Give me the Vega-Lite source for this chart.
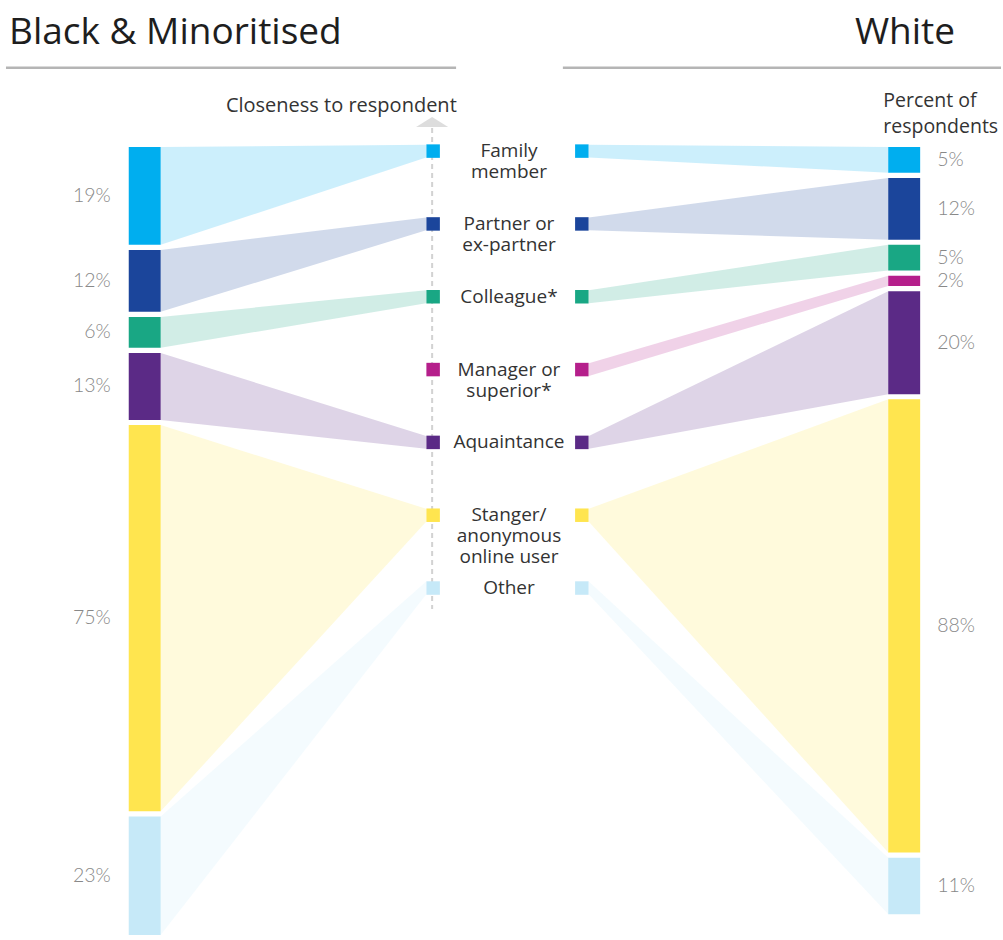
{
  "$schema": "https://vega.github.io/schema/vega-lite/v6.json",
  "width": 1003,
  "height": 940,
  "autosize": {"type": "fit", "contains": "padding"},
  "padding": 0,
  "background": "white",
  "config": {"view": {"stroke": null}, "text": {"font": "Open Sans"}},
  "data": {"values": [{}]},
  "datasets": {
    "cats": [
      {"category": "Family member", "rank": 0, "label": ["Family", "member"]},
      {"category": "Partner or ex-partner", "rank": 1, "label": ["Partner or", "ex-partner"]},
      {"category": "Colleague", "rank": 2, "label": ["Colleague*"]},
      {"category": "Manager or superior", "rank": 3, "label": ["Manager or", "superior*"]},
      {"category": "Aquaintance", "rank": 4, "label": ["Aquaintance"]},
      {"category": "Stranger/anonymous online user", "rank": 5, "label": ["Stanger/", "anonymous", "online user"]},
      {"category": "Other", "rank": 6, "label": ["Other"]}
    ],
    "pct": [
      {"group": "Black & Minoritised", "category": "Family member", "pct": 19},
      {"group": "Black & Minoritised", "category": "Partner or ex-partner", "pct": 12},
      {"group": "Black & Minoritised", "category": "Colleague", "pct": 6},
      {"group": "Black & Minoritised", "category": "Aquaintance", "pct": 13},
      {"group": "Black & Minoritised", "category": "Stranger/anonymous online user", "pct": 75},
      {"group": "Black & Minoritised", "category": "Other", "pct": 23},
      {"group": "White", "category": "Family member", "pct": 5},
      {"group": "White", "category": "Partner or ex-partner", "pct": 12},
      {"group": "White", "category": "Colleague", "pct": 5},
      {"group": "White", "category": "Manager or superior", "pct": 2},
      {"group": "White", "category": "Aquaintance", "pct": 20},
      {"group": "White", "category": "Stranger/anonymous online user", "pct": 88},
      {"group": "White", "category": "Other", "pct": 11}
    ]
  },
  "layer": [
    {
      "mark": {"type": "rule", "stroke": "#b5b5b5", "strokeWidth": 2.5},
      "encoding": {
        "x": {"datum": 6, "scale": {"domain": [0, 1003], "nice": false, "zero": false}, "axis": null},
        "x2": {"datum": 457},
        "y": {"datum": -15.4, "scale": {"domain": [-28.54, 153.98], "reverse": true, "nice": false, "zero": false}, "axis": null}
      }
    },
    {
      "mark": {"type": "rule", "stroke": "#b5b5b5", "strokeWidth": 2.5},
      "encoding": {
        "x": {"datum": 564, "axis": null},
        "x2": {"datum": 1003},
        "y": {"datum": -15.4, "axis": null}
      }
    },
    {
      "mark": {"type": "text", "text": "Black & Minoritised", "fontSize": 37, "align": "left", "baseline": "alphabetic", "fill": "#1e1e1e"},
      "encoding": {"x": {"datum": 9, "axis": null}, "y": {"datum": -20.0, "axis": null}}
    },
    {
      "mark": {"type": "text", "text": "White", "fontSize": 37, "align": "right", "baseline": "alphabetic", "fill": "#1e1e1e"},
      "encoding": {"x": {"datum": 957, "axis": null}, "y": {"datum": -20.0, "axis": null}}
    },
    {
      "mark": {"type": "point", "shape": "M-1,0.31L1,0.31L0,-0.31Z", "size": 1024, "filled": true, "fill": "#dddddd", "opacity": 1, "strokeWidth": 0},
      "encoding": {"x": {"datum": 433, "axis": null}, "y": {"datum": -4.85, "axis": null}}
    },
    {
      "mark": {"type": "rule", "stroke": "#d2d2d2", "strokeWidth": 2, "strokeDash": [5, 4]},
      "encoding": {"x": {"datum": 433, "axis": null}, "y": {"datum": -3.69, "axis": null}, "y2": {"datum": 89.7}}
    },
    {
      "mark": {"type": "text", "text": "Closeness to respondent", "fontSize": 20, "align": "center", "baseline": "alphabetic", "fill": "#333333"},
      "encoding": {"x": {"datum": 342, "axis": null}, "y": {"datum": -6.89, "axis": null}}
    },
    {
      "mark": {"type": "text", "text": "Percent of", "fontSize": 19.5, "align": "left", "baseline": "alphabetic", "fill": "#333333"},
      "encoding": {"x": {"datum": 885, "axis": null}, "y": {"datum": -7.83, "axis": null}}
    },
    {
      "mark": {"type": "text", "text": "respondents", "fontSize": 19.5, "align": "left", "baseline": "alphabetic", "fill": "#333333"},
      "encoding": {"x": {"datum": 885, "axis": null}, "y": {"datum": -2.72, "axis": null}}
    },
    {
      "data": {"name": "pct"},
      "transform": [
        {"lookup": "category", "from": {"data": {"name": "cats"}, "key": "category", "fields": ["rank"]}},
        {"window": [{"op": "sum", "field": "pct", "as": "cum"}, {"op": "row_number", "as": "idx"}], "groupby": ["group"], "sort": [{"field": "rank", "order": "ascending"}], "frame": [null, 0]},
        {"calculate": "datum.cum - datum.pct + (datum.idx - 1)", "as": "y0"},
        {"calculate": "datum.y0 + datum.pct", "as": "y1"},
        {"calculate": "0.8 + datum.rank * 14.14", "as": "mid"},
        {"calculate": "datum.group == 'White' ? 590 : 161", "as": "xs"},
        {"calculate": "datum.group == 'White' ? 890 : 427", "as": "xe"},
        {"fold": ["xs", "xe"], "as": ["end", "bx"]},
        {"calculate": "(datum.group == 'White') == (datum.end == 'xe')", "as": "barside"},
        {"calculate": "datum.barside ? datum.y0 : datum.mid - 1.25", "as": "bt"},
        {"calculate": "datum.barside ? datum.y1 : datum.mid + 1.25", "as": "bb"}
      ],
      "mark": {"type": "area", "interpolate": "linear"},
      "encoding": {
        "x": {"field": "bx", "type": "quantitative", "axis": null},
        "y": {"field": "bt", "type": "quantitative", "axis": null},
        "y2": {"field": "bb"},
        "color": {
          "field": "category", "type": "nominal", "legend": null,
          "scale": {
            "domain": ["Family member", "Partner or ex-partner", "Colleague", "Manager or superior", "Aquaintance", "Stranger/anonymous online user", "Other"],
            "range": ["#00AEEF", "#1B459B", "#19A784", "#B51F8B", "#5B2A86", "#FFE54F", "#C6E9F8"]
          }
        },
        "fillOpacity": {
          "field": "category", "type": "nominal", "legend": null,
          "scale": {
            "domain": ["Family member", "Partner or ex-partner", "Colleague", "Manager or superior", "Aquaintance", "Stranger/anonymous online user", "Other"],
            "range": [0.2, 0.2, 0.2, 0.2, 0.2, 0.22, 0.35]
          }
        },
        "detail": {"field": "group"}
      }
    },
    {
      "data": {"name": "pct"},
      "transform": [
        {"lookup": "category", "from": {"data": {"name": "cats"}, "key": "category", "fields": ["rank"]}},
        {"window": [{"op": "sum", "field": "pct", "as": "cum"}, {"op": "row_number", "as": "idx"}], "groupby": ["group"], "sort": [{"field": "rank", "order": "ascending"}], "frame": [null, 0]},
        {"calculate": "datum.cum - datum.pct + (datum.idx - 1)", "as": "y0"},
        {"calculate": "datum.y0 + datum.pct", "as": "y1"},
        {"calculate": "datum.group == 'White' ? 890 : 129", "as": "xa"},
        {"calculate": "datum.xa + 32", "as": "xb"}
      ],
      "mark": {"type": "rect"},
      "encoding": {
        "x": {"field": "xa", "type": "quantitative", "axis": null},
        "x2": {"field": "xb"},
        "y": {"field": "y0", "type": "quantitative", "axis": null},
        "y2": {"field": "y1"},
        "color": {"field": "category", "type": "nominal", "legend": null}
      }
    },
    {
      "data": {"name": "cats"},
      "transform": [{"calculate": "0.8 + datum.rank * 14.14", "as": "mid"}],
      "mark": {"type": "point", "shape": "square", "filled": true, "size": 182, "opacity": 1},
      "encoding": {
        "x": {"datum": 434, "axis": null},
        "y": {"field": "mid", "type": "quantitative", "axis": null},
        "color": {"field": "category", "type": "nominal", "legend": null}
      }
    },
    {
      "data": {"name": "cats"},
      "transform": [{"calculate": "0.8 + datum.rank * 14.14", "as": "mid"}],
      "mark": {"type": "point", "shape": "square", "filled": true, "size": 182, "opacity": 1},
      "encoding": {
        "x": {"datum": 583, "axis": null},
        "y": {"field": "mid", "type": "quantitative", "axis": null},
        "color": {"field": "category", "type": "nominal", "legend": null}
      }
    },
    {
      "data": {"name": "cats"},
      "transform": [{"calculate": "0.8 + datum.rank * 14.14", "as": "mid"}],
      "mark": {"type": "text", "fontSize": 19, "lineHeight": 21, "align": "center", "baseline": "middle", "fill": "#333333"},
      "encoding": {
        "x": {"datum": 510, "axis": null},
        "y": {"field": "mid", "type": "quantitative", "axis": null},
        "text": {"field": "label"}
      }
    },
    {
      "data": {"name": "pct"},
      "transform": [
        {"lookup": "category", "from": {"data": {"name": "cats"}, "key": "category", "fields": ["rank"]}},
        {"window": [{"op": "sum", "field": "pct", "as": "cum"}, {"op": "row_number", "as": "idx"}], "groupby": ["group"], "sort": [{"field": "rank", "order": "ascending"}], "frame": [null, 0]},
        {"calculate": "datum.cum - datum.pct + (datum.idx - 1) + datum.pct / 2", "as": "ym"},
        {"calculate": "datum.pct + '%'", "as": "t"},
        {"filter": "datum.group != 'White'"}
      ],
      "mark": {"type": "text", "font": "Lato", "fontWeight": 300, "fontSize": 19.5, "align": "right", "baseline": "middle", "fill": "#888888"},
      "encoding": {
        "x": {"datum": 111, "axis": null},
        "y": {"field": "ym", "type": "quantitative", "axis": null},
        "text": {"field": "t"}
      }
    },
    {
      "data": {"name": "pct"},
      "transform": [
        {"lookup": "category", "from": {"data": {"name": "cats"}, "key": "category", "fields": ["rank"]}},
        {"window": [{"op": "sum", "field": "pct", "as": "cum"}, {"op": "row_number", "as": "idx"}], "groupby": ["group"], "sort": [{"field": "rank", "order": "ascending"}], "frame": [null, 0]},
        {"calculate": "datum.cum - datum.pct + (datum.idx - 1) + datum.pct / 2", "as": "ym"},
        {"calculate": "datum.pct + '%'", "as": "t"},
        {"filter": "datum.group == 'White'"}
      ],
      "mark": {"type": "text", "font": "Lato", "fontWeight": 300, "fontSize": 19.5, "align": "left", "baseline": "middle", "fill": "#888888"},
      "encoding": {
        "x": {"datum": 939, "axis": null},
        "y": {"field": "ym", "type": "quantitative", "axis": null},
        "text": {"field": "t"}
      }
    }
  ]
}
